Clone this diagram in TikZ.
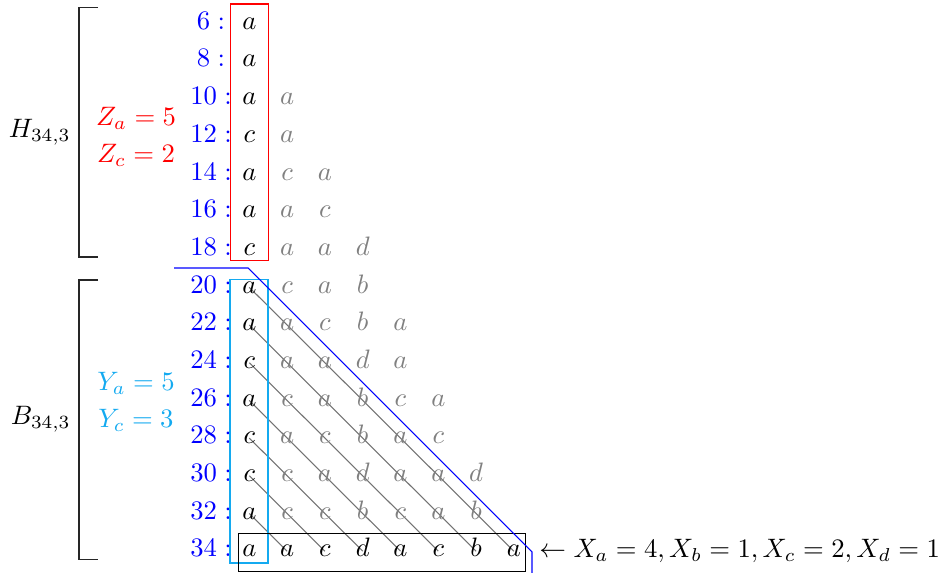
\documentclass[tikz,border=0pt]{standalone}
\usetikzlibrary{backgrounds}
\definecolor{mycyan}{RGB}{20,170,240}
\begin{document}
\begin{tikzpicture}[x=0.375pt,y=-0.375pt,
  lett/.style={anchor=base,inner sep=0pt},
  num/.style={anchor=base,inner sep=0pt,text=blue},
  diag/.style={draw=black!55,line width=0.4pt},
  brk/.style={draw=black!85,line width=0.4pt},
  side/.style={anchor=base,inner sep=0pt}]
\useasboundingbox (0,0) rectangle (940,573);
\foreach \r/\lab/\row in {0/6/{a},1/8/{a},2/10/{a,a},3/12/{c,a},4/14/{a,c,a},5/16/{a,a,c},6/18/{c,a,a,d},7/20/{a,c,a,b},8/22/{a,a,c,b,a},9/24/{c,a,a,d,a},10/26/{a,c,a,b,c,a},11/28/{c,a,c,b,a,c},12/30/{c,c,a,d,a,a,d},13/32/{a,c,c,b,c,a,b},14/34/{a,a,c,d,a,c,b,a}} {
  \node[num] (n\r) at (211,{29.3+37.69*\r}) {$\lab:$};
  \foreach \l [count=\k from 0] in \row {
    \ifnum\k=0 \def\col{black}\else\ifnum\r=14 \def\col{black}\else\def\col{gray}\fi\fi
    \coordinate (p\r-\k) at ({249.3+37.8*\k},{23.5+37.69*\r});
    \node[lett,text=\col] (l\r-\k) at ({249.3+37.8*\k},{29.3+37.69*\r}) {$\l$};
  }
}
\begin{scope}[on background layer]
\foreach \j in {7,...,13} {
  \pgfmathtruncatemacro\kk{14-\j}
  \draw[diag] (p\j-0) -- (p14-\kk);
}
\end{scope}
% boxes
\draw[red] (230.3,4) rectangle (268.3,260.7);
\draw[mycyan] (230,279.3) rectangle (268,563);
\draw (238.3,533.3) rectangle (525.7,571.3);
% blue polyline
\coordinate (bl0) at (174,268);
\coordinate (bl1) at (248,268);
\coordinate (bl2) at (532,552);
\coordinate (bl3) at (532,573);
\draw[blue] (bl0) -- (bl1) -- (bl2) -- (bl3);
% brackets
\draw[brk] (98,7.7) -- (79,7.7) -- (79,257) -- (98,257);
\draw[brk] (98,280) -- (79,280) -- (79,559.3) -- (98,559.3);
\node[anchor=east] (H) at (80,132.4) {$H_{34,3}$};
\node[anchor=east] (B) at (80,419.6) {$B_{34,3}$};
\node[side,text=red] (za) at (136,126) {$Z_a=5$};
\node[side,text=red] (zc) at (136,163) {$Z_c=2$};
\node[side,text=mycyan] (ya) at (136,390) {$Y_a=5$};
\node[side,text=mycyan] (yc) at (136,427) {$Y_c=3$};
\node[anchor=base west] (X) at (530,557) {$\leftarrow X_a=4,X_b=1,X_c=2,X_d=1$};
\end{tikzpicture}
\end{document}
